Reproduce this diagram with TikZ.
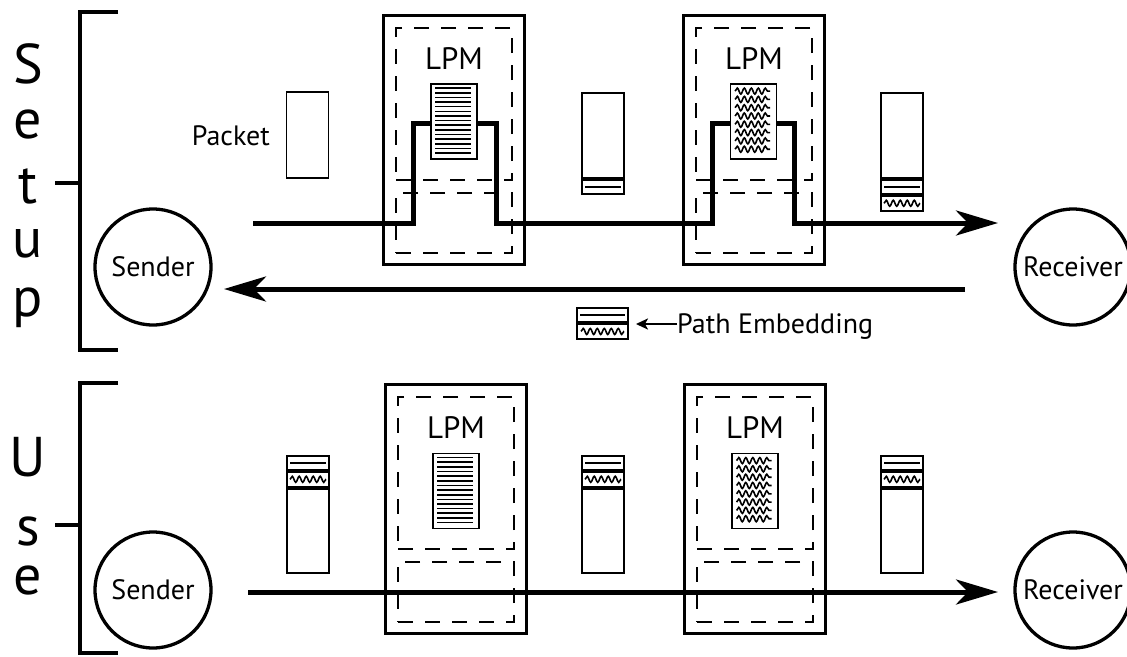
\documentclass[tikz,border=0pt]{standalone}
\usepackage{fontspec}
\setmainfont{PT Sans}
\usetikzlibrary{arrows.meta,decorations.pathmorphing,calc}
\begin{document}
\begin{tikzpicture}[x=1pt,y=-1pt,
 lbl/.style={font=\fontsize{28}{28}\selectfont, inner sep=0pt},
 lpmlbl/.style={font=\fontsize{31}{31}\selectfont, inner sep=0pt, anchor=base},
 big/.style={font=\fontsize{56}{58}\selectfont, inner sep=0pt, anchor=base, align=center},
 party/.style={circle, draw, line width=3.3pt, minimum size=116pt, inner sep=0pt, font=\fontsize{28}{28}\selectfont},
 lpmbox/.style={draw, line width=2.3pt, minimum width=141pt, minimum height=249pt, inner sep=0pt},
 dbox/.style={draw, line width=1.2pt, dash pattern=on 15pt off 12pt, minimum width=116pt, inner sep=0pt},
 doc/.style={draw, fill=white, line width=1.8pt, minimum width=46pt, minimum height=75pt, inner sep=0pt},
 pkt/.style={draw, line width=1.9pt, minimum width=42pt, inner sep=0pt},
 flow/.style={line width=5pt, -{Stealth[length=42pt,width=25pt,inset=12pt]}},
 small/.style={line width=2.5pt, -{Stealth[length=12pt,width=11pt,inset=3pt]}},
 wave/.style={line width=1.6pt, decorate, decoration={snake, segment length=7pt, amplitude=3pt}},
 rule/.style={line width=1.6pt},
 bracket/.style={line width=4pt},
]
\useasboundingbox (0,0) rectangle (1127,656);

% brackets
\draw[bracket] (118,12) -- (80,12) -- (80,350) -- (118,350);
\draw[bracket] (55,183) -- (80,183);
\draw[bracket] (118,383) -- (80,383) -- (80,653) -- (118,653);
\draw[bracket] (55,525) -- (80,525);

% side labels (anchor base = baseline of the last line)
\node[big] (setup) at (28,316) {S\\[-3pt]e\\[7pt]t\\[-4pt]u\\[1pt]p};
\node[big] (use) at (28,594) {U\\[11pt]s\\[-9pt]e};

% parties
\node[party] (snd1) at (153,267) {Sender};
\node[party] (rcv1) at (1073,267) {Receiver};
\node[party] (snd2) at (153,590) {Sender};
\node[party] (rcv2) at (1073,590) {Receiver};

% LPM boxes
\newcommand\lpmunit[3]{%
 \node[lpmbox] (#1) at (#2,#3) {};
 \node[dbox, minimum height=152pt] (#1u) at (#2,#3-36) {};
 \node[dbox, minimum height=60pt] (#1l) at (#2,#3+83) {};
 \node[lpmlbl] (#1t) at (#2,#3-71) {LPM};
}
\lpmunit{a1}{454}{140}
\lpmunit{a2}{754}{140}
\lpmunit{b1}{456}{509}
\lpmunit{b2}{755}{509}

% flows
\coordinate (s1) at (253,223);
\coordinate (t1) at (998,223);
\draw[flow] (s1) -| (413,123) -| (496,223) -| (712,123) -| (794,223) -- (t1);
\coordinate (r0) at (965,289);
\coordinate (r1) at (224,289);
\draw[flow] (r0) -- (r1);
\coordinate (s2) at (248,592);
\coordinate (t2) at (998,592);
\draw[flow] (s2) -- (t2);

% documents in LPMs
\newcommand\linedoc[3]{%
 \node[doc] (#1) at (#2,#3) {};
 \foreach \i in {0,...,14} \draw[rule] ($(#1.north west)+(5,5+\i*4.64)$) -- ++(36,0);
}
\newcommand\wavedoc[3]{%
 \node[doc] (#1) at (#2,#3) {};
 \foreach \i in {0,...,7} \draw[wave] ($(#1.north west)+(5.5,8+\i*8.3)$) -- ++(35,0);
}
\linedoc{da1}{454}{121.5}
\wavedoc{da2}{753.5}{121.5}
\linedoc{db1}{456}{491}
\wavedoc{db2}{755}{491}

% setup packets
\node[pkt, minimum height=86pt] (p1) at (307.5,135) {};
\node[lbl, anchor=east] (plabel) at (270,136) {Packet};

\node[pkt, minimum height=85pt] (p2) at (603,135.5) {};
\node[pkt, minimum height=14pt, anchor=north] (p2h) at (p2.south) {};
\draw[rule] ($(p2h.west)+(4,0)$) -- ($(p2h.east)+(-4,0)$);

\node[pkt, minimum height=85pt] (p3) at (902,135.5) {};
\node[pkt, minimum height=14pt, anchor=north] (p3h) at (p3.south) {};
\draw[rule] ($(p3h.west)+(4,0)$) -- ($(p3h.east)+(-4,0)$);
\node[pkt, minimum height=15pt, anchor=north] (p3w) at (p3h.south) {};
\draw[wave] ($(p3w.west)+(4,0)$) -- ($(p3w.east)+(-4,0)$);

% use packets
\foreach \n/\x in {q1/308, q2/603, q3/902}{
 \node[pkt, minimum height=14pt, anchor=north] (\n h) at (\x,455) {};
 \draw[rule] ($(\n h.west)+(4,0)$) -- ($(\n h.east)+(-4,0)$);
 \node[pkt, minimum height=15pt, anchor=north] (\n w) at (\n h.south) {};
 \draw[wave] ($(\n w.west)+(4,0)$) -- ($(\n w.east)+(-4,0)$);
 \node[pkt, minimum height=84pt, anchor=north] (\n) at (\n w.south) {};
}

% path embedding legend
\node[pkt, minimum width=51pt, minimum height=14pt] (eh) at (602.5,315) {};
\draw[rule] ($(eh.west)+(4,0)$) -- ($(eh.east)+(-4,0)$);
\node[pkt, minimum width=51pt, minimum height=15pt, anchor=north] (ew) at (eh.south) {};
\draw[wave] ($(ew.west)+(5,0)$) -- ($(ew.east)+(-5,0)$);
\node[lbl, anchor=base west] (elabel) at (677,333) {Path Embedding};
\draw[small] (elabel.west |- 0,324) -- ($(eh.east |- 0,324)+(7,0)$);
\end{tikzpicture}
\end{document}
